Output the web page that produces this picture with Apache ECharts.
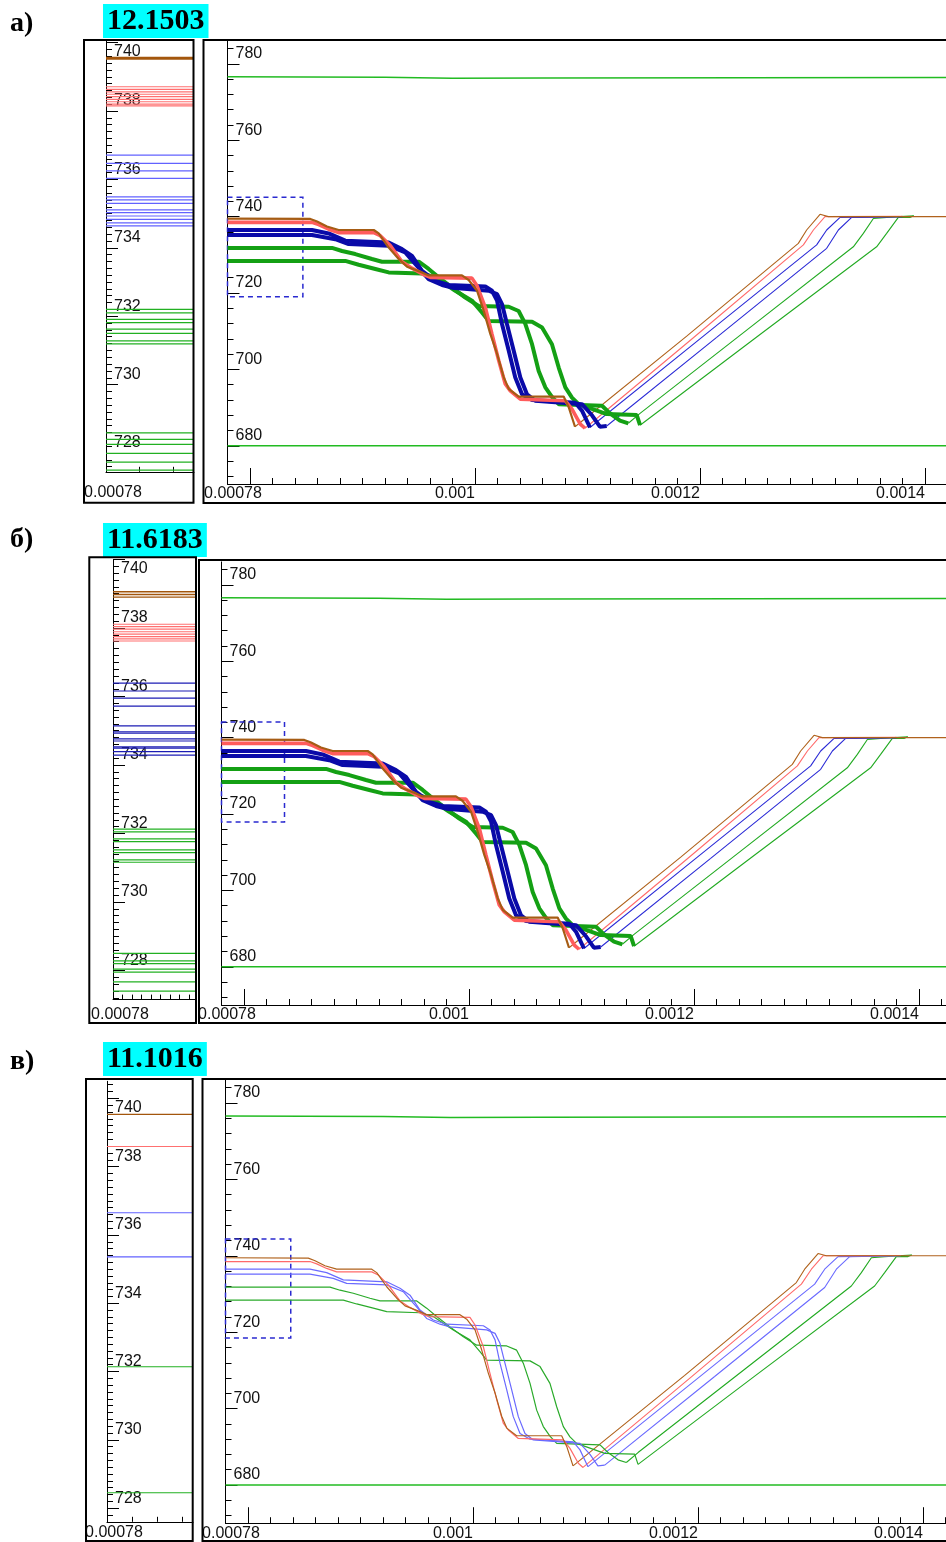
<!DOCTYPE html>
<html>
<head>
<meta charset="utf-8">
<script src="https://cdn.jsdelivr.net/npm/echarts@6/dist/echarts.min.js"></script>
<style>
  html, body { margin: 0; padding: 0; background: #fff; }
  #chart { width: 946px; height: 1542px; }
</style>
</head>
<body>
<div id="chart"></div>
<script>
// captions
const panelLetters = ['а)', 'б)', 'в)'];
const panelValues = ['12.1503', '11.6183', '11.1016'];

// tick labels
const mainXLabels = [0.001, 0.0012, 0.0014];
const mainXTicks = [0.0008, 0.001, 0.0012, 0.0014];
const mainYLabels = [680, 700, 720, 740, 760, 780];
const stripYLabels = [728, 730, 732, 734, 736, 738];

// straight green levels of the main charts
const topLevel = [[0.00078, 776.6], [0.00092, 776.5], [0.00098, 776.2], [0.00106, 776.3], [0.00143, 776.4]];
const bottomLevel = [[0.00078, 680.0], [0.00143, 680.0]];

// falling part of the six curves
const brownDown = [[0.00078, 739.5], [0.0008536, 739.4], [0.0008596, 738.7], [0.0008684, 737.4], [0.0008788, 736.5], [0.00091, 736.5], [0.0009144, 735.6], [0.0009233, 731.9], [0.0009322, 728.9], [0.0009396, 726.9], [0.0009529, 725.4], [0.0009588, 724.6], [0.0009884, 724.6], [0.0009944, 723.4], [0.0010018, 720.6], [0.0010077, 715.4], [0.0010136, 709.3], [0.0010196, 704.1], [0.0010255, 698.0], [0.00103, 694.9], [0.0010388, 692.9], [0.0010788, 692.9], [0.0010833, 690.1], [0.0010889, 685.0]];
const redDown = [[0.00078, 738.5], [0.0008551, 738.5], [0.0008611, 737.9], [0.0008699, 736.7], [0.0008788, 735.8], [0.00091, 735.8], [0.0009158, 735.0], [0.0009247, 732.4], [0.0009351, 728.2], [0.000944, 726.5], [0.0009544, 724.8], [0.0009603, 724.1], [0.0009973, 723.9], [0.0010018, 721.9], [0.0010092, 716.2], [0.0010151, 709.2], [0.0010211, 702.3], [0.0010269, 696.2], [0.0010314, 694.4], [0.0010403, 692.2], [0.0010803, 691.8], [0.0010862, 689.6], [0.0010936, 685.7], [0.0010978, 684.6]];
const blue1Down = [[0.00078, 736.5], [0.0008551, 736.5], [0.0008699, 735.6], [0.0008847, 733.7], [0.0009233, 733.2], [0.0009351, 731.5], [0.000944, 729.7], [0.0009529, 725.8], [0.0009647, 723.2], [0.0009766, 722.1], [0.0010092, 721.7], [0.0010151, 720.6], [0.0010196, 718.0], [0.001024, 711.9], [0.00103, 704.9], [0.0010358, 697.9], [0.0010418, 693.5], [0.0010507, 692.0], [0.0010892, 691.3], [0.0010951, 689.2], [0.0011022, 684.8]];
const blue2Down = [[0.00078, 735.2], [0.0008551, 735.2], [0.0008758, 734.1], [0.0008877, 732.8], [0.0009233, 732.4], [0.000938, 730.6], [0.0009469, 727.6], [0.0009588, 723.6], [0.0009707, 722.1], [0.0009796, 721.4], [0.0010122, 720.6], [0.0010196, 719.7], [0.001024, 717.1], [0.0010284, 711.9], [0.0010344, 704.9], [0.0010403, 697.9], [0.0010462, 693.5], [0.0010536, 691.8], [0.0010951, 690.9], [0.001104, 688.0], [0.001111, 685.0], [0.0011171, 685.2]];
const green1Down = [[0.00078, 731.8], [0.0008729, 731.8], [0.0008818, 731.0], [0.0008936, 730.2], [0.0009084, 728.9], [0.0009173, 728.2], [0.00095, 728.2], [0.0009588, 726.3], [0.0009677, 724.1], [0.0009796, 721.4], [0.0009914, 718.8], [0.0010033, 716.6], [0.00103, 716.4], [0.0010388, 715.3], [0.0010447, 711.9], [0.0010507, 706.6], [0.0010566, 699.6], [0.0010625, 695.3], [0.0010684, 692.8], [0.0010744, 690.9], [0.0011129, 690.5], [0.00112, 688.5], [0.0011289, 686.6], [0.0011363, 685.9]];
const green2Down = [[0.00078, 728.4], [0.0008847, 728.4], [0.0008966, 727.4], [0.0009114, 726.3], [0.0009233, 725.4], [0.0009529, 725.1], [0.0009647, 724.1], [0.0009825, 720.6], [0.0009973, 718.0], [0.0010062, 714.9], [0.0010122, 712.7], [0.0010507, 712.5], [0.0010596, 711.0], [0.0010684, 706.6], [0.0010744, 700.5], [0.0010803, 695.3], [0.0010862, 692.6], [0.0010921, 690.9], [0.0011171, 688.3], [0.0011437, 688.1], [0.0011467, 685.4]];

// rising part of the six curves
const brownUp = [[0.0010889, 685.0], [0.0011882, 708.7], [0.0012874, 733.0], [0.0012948, 736.5], [0.0013067, 740.6], [0.0013141, 740.0], [0.00143, 740.0]];
const redUp = [[0.0010978, 684.6], [0.0011941, 708.3], [0.0012919, 732.6], [0.0013008, 736.5], [0.0013111, 740.0], [0.00138, 740.1]];
const blue1Up = [[0.0011022, 684.8], [0.001203, 708.7], [0.0013037, 732.6], [0.0013126, 736.5], [0.0013245, 739.8], [0.00138, 740.0]];
const blue2Up = [[0.0011171, 685.2], [0.0012148, 708.4], [0.0013126, 731.7], [0.001323, 736.5], [0.0013348, 739.8], [0.00138, 740.0]];
const green1Up = [[0.0011363, 685.9], [0.0011467, 688.5], [0.0012415, 710.3], [0.0013363, 732.1], [0.0013452, 735.6], [0.0013541, 739.5], [0.0013659, 739.8], [0.00139, 740.2]];
const green2Up = [[0.0011467, 685.4], [0.0012504, 708.5], [0.001357, 732.1], [0.0013659, 735.6], [0.0013763, 739.8], [0.0013867, 739.8], [0.00139, 740.2]];

// levels in the narrow left strips
const brownLevelsA = [739.54];
const redLevelsA = [738.71, 738.63, 738.56, 738.49, 738.42, 738.34, 738.27, 738.20, 738.15];
const blueLevelsA = [736.71, 736.47, 736.25, 736.03, 735.49, 735.40, 735.30, 735.11, 735.03, 734.93, 734.83, 734.73, 734.64];
const greenLevelsA = [732.20, 732.10, 731.91, 731.81, 731.62, 731.50, 731.28, 731.19, 728.59, 728.40, 728.25, 727.99, 727.73, 727.50];
const brownLevelsB = [739.06, 738.98, 738.90];
const redLevelsB = [738.11, 738.04, 737.97, 737.89, 737.82, 737.75, 737.68, 737.62];
const blueLevelsB = [736.39, 736.16, 735.95, 735.72, 735.14, 734.97, 734.93, 734.76, 734.70, 734.53, 734.49, 734.39, 734.29];
const greenLevelsB = [732.13, 732.05, 731.84, 731.76, 731.52, 731.44, 731.23, 731.16, 728.50, 728.28, 728.20, 728.04, 727.95, 727.67, 727.40];
const brownLevelsC = [739.53];
const redLevelsC = [738.59];
const blueLevelsC = [736.65, 735.36];
const greenLevelsC = [732.14, 728.45];

// dashed zoom frames [x0, y0], [x1, y1]
const zoomBoxA = [[0.00078, 719.0], [0.000847, 745.1]];
const zoomBoxB = [[0.00078, 717.9], [0.000836, 744.1]];
const zoomBoxC = [[0.00078, 718.5], [0.000838, 744.4]];

const X0 = 0.00078, XMAX = 0.001425;
const YMIN = 670, YMAX = 786;
const FONT = 'Liberation Sans, Arial, sans-serif';

function steps(from, to, step) {
  const out = [];
  const n = Math.round((to - from) / step);
  for (let i = 0; i <= n; i++) out.push(+(from + i * step).toFixed(9));
  return out;
}

const layout = [
  { letterTop: 9, valueTop: 4, stripBox: [84, 40, 109.5, 462.7], mainBox: [203.5, 40, 800, 463],
    strip: { left: 106, top: 40.9, width: 88, height: 430.9, min: 727.45, max: 740.05, px: 33.5, gap: 13 },
    main: { left: 227.5, top: 40.9 }, thick: true, brownWidth: 3,
    levels: [brownLevelsA, redLevelsA, blueLevelsA, greenLevelsA], box: zoomBoxA },
  { letterTop: 525, valueTop: 523, stripBox: [89.3, 557.3, 106.7, 465.7], mainBox: [199, 560, 800, 463],
    strip: { left: 113, top: 559.5, width: 83, height: 440.1, min: 727.15, max: 740.0, px: 9.5, gap: 7 },
    main: { left: 221.5, top: 561.9 }, thick: true, brownWidth: 1.4,
    levels: [brownLevelsB, redLevelsB, blueLevelsB, greenLevelsB], box: zoomBoxB },
  { letterTop: 1047, valueTop: 1042, stripBox: [86, 1079, 106.7, 462], mainBox: [202.5, 1079, 800, 462],
    strip: { left: 107, top: 1081.3, width: 86, height: 440.5, min: 727.6, max: 740.5, px: 25, gap: 3 },
    main: { left: 225.5, top: 1080.1 }, thick: false, brownWidth: 1.2,
    levels: [brownLevelsC, redLevelsC, blueLevelsC, greenLevelsC], box: zoomBoxC }
];

const grid = [], xAxis = [], yAxis = [], series = [], title = [], graphic = [];

const labelStyle = { fontFamily: FONT, fontSize: 16, color: '#111' };
const axisLine = { show: true, onZero: false, lineStyle: { color: '#000', width: 1 } };

function curve(data, xi, yi, color, width, z) {
  return { type: 'line', xAxisIndex: xi, yAxisIndex: yi, data: data, symbol: 'none', showSymbol: false,
    color: color, lineStyle: { color: color, width: width }, z: z, silent: true, animation: false };
}

layout.forEach(function (p, i) {
  title.push({ text: panelLetters[i], left: 10, top: p.letterTop, padding: 0,
    textStyle: { fontFamily: 'Liberation Serif, Times New Roman, serif', fontWeight: 'bold', fontSize: 28, lineHeight: 30, color: '#000' } });
  title.push({ text: panelValues[i], left: 103, top: p.valueTop, padding: [2, 4, 2, 4], backgroundColor: '#00ffff',
    textStyle: { fontFamily: 'Liberation Serif, Times New Roman, serif', fontWeight: 'bold', fontSize: 30, lineHeight: 30, color: '#000' } });

  graphic.push({ type: 'rect', shape: { x: p.stripBox[0], y: p.stripBox[1], width: p.stripBox[2], height: p.stripBox[3] },
    style: { fill: 'none', stroke: '#000', lineWidth: 2 }, z: 10 });
  graphic.push({ type: 'rect', shape: { x: p.mainBox[0], y: p.mainBox[1], width: p.mainBox[2], height: p.mainBox[3] },
    style: { fill: 'none', stroke: '#000', lineWidth: 2 }, z: 10 });

  const s = p.strip;
  const sxMax = X0 + s.width / s.px * 1e-5;
  grid.push({ left: s.left, top: s.top, width: s.width, height: s.height, outerBoundsMode: 'none', containLabel: false });
  grid.push({ left: p.main.left, top: p.main.top, width: (XMAX - X0) * 1125000, height: (YMAX - YMIN) * 3.82,
    outerBoundsMode: 'none', containLabel: false });
  const gs = 2 * i, gm = 2 * i + 1;
  const xs = xAxis.length;
  xAxis.push({ type: 'value', gridIndex: gs, position: 'bottom', min: X0, max: sxMax, axisLine: axisLine, splitLine: { show: false },
    axisTick: { inside: true, length: 5, customValues: steps(X0, sxMax, 1e-5).filter(function (v) { return v <= sxMax; }), lineStyle: { color: '#000' } },
    axisLabel: Object.assign({ customValues: [X0], margin: s.gap, align: 'center', padding: [0, 0, 0, 14],
      formatter: function () { return '0.00078'; } }, labelStyle) });
  xAxis.push({ type: 'value', gridIndex: gm, position: 'bottom', min: X0, max: XMAX, axisLine: axisLine, splitLine: { show: false },
    axisTick: { inside: true, length: 16, customValues: mainXTicks, lineStyle: { color: '#000' } },
    axisLabel: Object.assign({ customValues: mainXLabels, margin: 2, align: 'right',
      formatter: function (v) { return String(+v.toPrecision(4)); } }, labelStyle) });
  xAxis.push({ type: 'value', gridIndex: gm, position: 'bottom', offset: 0, min: X0, max: XMAX, axisLine: { show: false }, splitLine: { show: false },
    axisTick: { inside: true, length: 6, customValues: steps(X0, 0.00142, 0.00002), lineStyle: { color: '#000' } },
    axisLabel: Object.assign({ customValues: [X0], margin: 2, align: 'center', padding: [0, 0, 0, 11],
      formatter: function () { return '0.00078'; } }, labelStyle) });

  const ys = yAxis.length;
  yAxis.push({ type: 'value', gridIndex: gs, position: 'left', min: s.min, max: s.max, axisLine: axisLine, splitLine: { show: false },
    axisTick: { inside: true, length: 12, customValues: [728, 730, 732, 734, 736, 738, 740], lineStyle: { color: '#000' } },
    axisLabel: Object.assign({ customValues: stripYLabels, inside: true, margin: 8, verticalAlign: 'bottom', padding: [0, 0, 2, 0] }, labelStyle) });
  yAxis.push({ type: 'value', gridIndex: gs, position: 'left', offset: 0, min: s.min, max: s.max, axisLine: { show: false }, splitLine: { show: false },
    axisTick: { inside: true, length: 6, customValues: steps(726, 741, 0.2).filter(function (v) { return v >= s.min && v <= s.max; }), lineStyle: { color: '#000' } },
    axisLabel: Object.assign({ customValues: [740], inside: true, margin: 8, verticalAlign: 'top', padding: [1, 0, 0, 0] }, labelStyle) });
  yAxis.push({ type: 'value', gridIndex: gm, position: 'left', min: YMIN, max: YMAX, axisLine: axisLine, splitLine: { show: false },
    axisTick: { inside: true, length: 12, customValues: mainYLabels, lineStyle: { color: '#000' } },
    axisLabel: Object.assign({ customValues: mainYLabels, inside: true, margin: 8, verticalAlign: 'bottom', padding: [0, 0, 2, 0] }, labelStyle) });
  yAxis.push({ type: 'value', gridIndex: gm, position: 'left', offset: 0, min: YMIN, max: YMAX, axisLine: { show: false }, splitLine: { show: false },
    axisTick: { inside: true, length: 6, customValues: steps(672, 784, 4), lineStyle: { color: '#000' } },
    axisLabel: { show: false } });

  // strip levels, one straight segment per level across the strip
  const stripColors = ['#a3560c', '#ff7070', i === 1 ? '#1c1cb4' : '#6262ff', '#22b022'];
  const stripWidths = [p.brownWidth, 1.2, 1.2, 1.2];
  [3, 2, 1, 0].forEach(function (k) {
    p.levels[k].forEach(function (v) {
      series.push(curve([[X0, v], [sxMax, v]], xs, ys, stripColors[k], stripWidths[k], 3));
    });
  });

  // main chart
  const xm = xs + 1, ym = ys + 2;
  const g = curve(topLevel, xm, ym, '#22bb22', 1.5, 2);
  g.markArea = { silent: true, animation: false,
    itemStyle: { color: 'rgba(0,0,0,0)', borderColor: '#2a2ad0', borderWidth: 1.5, borderType: [5, 4] },
    data: [[{ coord: [p.box[0][0], p.box[1][1]] }, { coord: [p.box[1][0], p.box[0][1]] }]] };
  series.push(g);
  series.push(curve(bottomLevel, xm, ym, '#22bb22', 1.5, 2));

  const w = p.thick ? { brown: 2.2, red: 3.6, blue: 4, green: 4 } : { brown: 1.2, red: 1.2, blue: 1.2, green: 1.2 };
  const c = p.thick ? { brown: '#a65c14', red: '#ff5c5c', blue: '#0a0aa8', green: '#14a014' }
                    : { brown: '#b0621c', red: '#ff6a6a', blue: '#6a6aff', green: '#2aaa2a' };
  const up = { brown: '#b0621c', red: '#ff6a6a', blue: p.thick ? '#2b2bd6' : '#6a6aff', green: '#22aa22' };

  series.push(curve(green2Up, xm, ym, up.green, 1.1, 3));
  series.push(curve(green1Up, xm, ym, up.green, 1.1, 3));
  series.push(curve(blue2Up, xm, ym, up.blue, 1.1, 3));
  series.push(curve(blue1Up, xm, ym, up.blue, 1.1, 3));
  series.push(curve(redUp, xm, ym, up.red, 1.1, 3));
  series.push(curve(brownUp, xm, ym, up.brown, 1.1, 3));
  series.push(curve(green2Down, xm, ym, c.green, w.green, 4));
  series.push(curve(green1Down, xm, ym, c.green, w.green, 4));
  series.push(curve(blue2Down, xm, ym, c.blue, w.blue, 4));
  series.push(curve(blue1Down, xm, ym, c.blue, w.blue, 4));
  series.push(curve(redDown, xm, ym, c.red, w.red, 4));
  series.push(curve(brownDown, xm, ym, c.brown, w.brown, 4));
});

const chart = echarts.init(document.getElementById('chart'));
chart.setOption({
  animation: false,
  backgroundColor: '#fff',
  title: title,
  grid: grid,
  xAxis: xAxis,
  yAxis: yAxis,
  series: series,
  graphic: graphic
});
</script>
</body>
</html>
